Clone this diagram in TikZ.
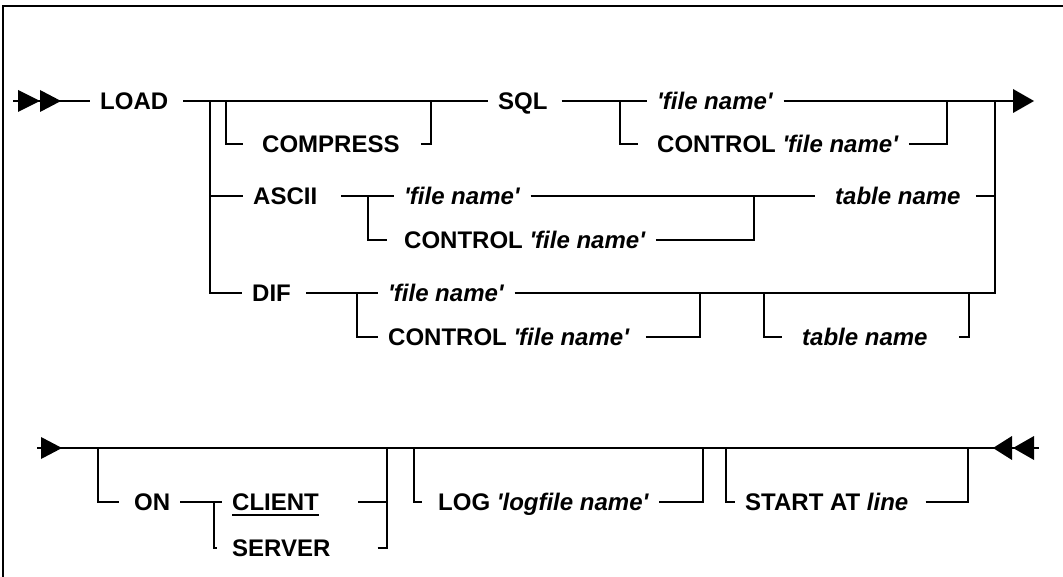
\documentclass[tikz,border=0pt]{standalone}
\usepackage{fontspec}
\setmainfont{Liberation Sans}
\newcommand\fn{\textit{\textquotesingle file name\textquotesingle}}
\newcommand\myul[1]{\setbox0\hbox{#1}\rlap{\rule[-5pt]{\wd0}{1.8pt}}\box0}
\begin{document}
\begin{tikzpicture}[x=1pt,y=-1pt,
  rr/.style={line width=1.8pt},
  kw/.style={anchor=west,inner xsep=10pt,inner ysep=0pt,text height=17pt,text depth=0pt,
    font=\fontsize{24}{27}\selectfont\bfseries},
  tip/.style={fill=black}]
\useasboundingbox (0,0) rectangle (1063,577);
% frame
\draw[line width=2pt] (3,577) -- (3,6) -- (1063,6);
% text nodes
\node[kw] (load) at (90,101) {LOAD};
\node[kw] (compress) at (252,144) {COMPRESS};
\node[kw] (sql) at (488,101) {SQL};
\node[kw] (sqlf) at (647,101) {\fn};
\node[kw] (sqlc) at (647,144) {CONTROL \fn};
\node[kw] (ascii) at (243,196) {ASCII};
\node[kw] (ascf) at (394,196) {\fn};
\node[kw] (ascc) at (394,240) {CONTROL \fn};
\node[kw] (tn1) at (825,196) {\textit{table name}};
\node[kw] (dif) at (242,293) {DIF};
\node[kw] (diff) at (378,293) {\fn};
\node[kw] (difc) at (378,337) {CONTROL \fn};
\node[kw] (tn2) at (792,337) {\textit{table name}};
\node[kw] (on) at (124,502) {ON};
\node[kw] (client) at (222,502) {\myul{CLIENT}};
\node[kw] (server) at (222,548) {SERVER};
\node[kw] (log) at (428,502) {LOG \textit{\textquotesingle logfile name\textquotesingle}};
\node[kw] (start) at (735,502) {START AT \textit{line}};
% junction coordinates
\coordinate (s0) at (13,101);
\coordinate (j1) at (210,101); \coordinate (j2) at (210,196); \coordinate (j3) at (210,293);
\coordinate (c1) at (226,101); \coordinate (c2) at (226,144); \coordinate (c3) at (431,144); \coordinate (c4) at (431,101);
\coordinate (q1) at (620,101); \coordinate (q2) at (620,144); \coordinate (q3) at (947,144); \coordinate (q4) at (947,101);
\coordinate (e1) at (1014,101); \coordinate (e2) at (995,101); \coordinate (e3) at (995,196); \coordinate (e4) at (995,293);
\coordinate (a1) at (368,196); \coordinate (a2) at (368,240); \coordinate (a3) at (754,240); \coordinate (a4) at (754,196);
\coordinate (d1) at (357,293); \coordinate (d2) at (357,337); \coordinate (d3) at (700,337); \coordinate (d4) at (700,293);
\coordinate (t1) at (764,293); \coordinate (t2) at (764,337); \coordinate (t3) at (969,337); \coordinate (t4) at (969,293);
\coordinate (b0) at (37,448); \coordinate (b9) at (1039,448);
\coordinate (o1) at (98,448); \coordinate (o2) at (98,502); \coordinate (o3) at (214,502); \coordinate (o4) at (214,548);
\coordinate (o5) at (387,548); \coordinate (o6) at (387,448); \coordinate (o7) at (387,502);
\coordinate (l1) at (414,448); \coordinate (l2) at (414,502); \coordinate (l3) at (703,502); \coordinate (l4) at (703,448);
\coordinate (r1) at (726,448); \coordinate (r2) at (726,502); \coordinate (r3) at (968,502); \coordinate (r4) at (968,448);
% connectors
\draw[rr] (s0) -- (load.west);
\draw[rr,shorten <=5pt] (load.east) -- (sql.west);
\draw[rr] (j1) -- (j3) -- (dif.west);
\draw[rr] (j2) -- (ascii.west);
\draw[rr,shorten >=9pt] (c1) -- (c2) -- (compress.west);
\draw[rr,shorten <=11pt] (compress.east) -- (c3) -- (c4);
\draw[rr,shorten <=4pt] (sql.east) -- (sqlf.west);
\draw[rr,shorten >=9pt] (q1) -- (q2) -- (sqlc.west);
\draw[rr] (sqlf.east) -- (e1);
\draw[rr] (sqlc.east) -- (q3) -- (q4);
\draw[rr] (diff.east) -- (e4) -- (e2);
\draw[rr,shorten <=14pt] (ascii.east) -- (ascf.west);
\draw[rr,shorten >=7pt] (a1) -- (a2) -- (ascc.west);
\draw[rr,shorten >=10pt] (ascf.east) -- (tn1.west);
\draw[rr] (ascc.east) -- (a3) -- (a4);
\draw[rr,shorten <=5pt] (tn1.east) -- (e3);
\draw[rr,shorten <=5pt] (dif.east) -- (diff.west);
\draw[rr] (d1) -- (d2) -- (difc.west);
\draw[rr,shorten <=6pt] (difc.east) -- (d3) -- (d4);
\draw[rr,shorten >=10pt] (t1) -- (t2) -- (tn2.west);
\draw[rr,shorten <=21pt] (tn2.east) -- (t3) -- (t4);
\draw[rr] (b0) -- (b9);
\draw[rr,shorten >=5pt] (o1) -- (o2) -- (on.west);
\draw[rr] (on.east) -- (client.west);
\draw[rr,shorten >=5pt] (o3) -- (o4) -- (server.west);
\draw[rr,shorten <=29pt] (client.east) -- (o7);
\draw[rr,shorten <=37pt] (server.east) -- (o5) -- (o6);
\draw[rr,shorten >=6pt] (l1) -- (l2) -- (log.west);
\draw[rr] (log.east) -- (l3) -- (l4);
\draw[rr] (r1) -- (r2) -- (start.west);
\draw[rr,shorten <=7pt] (start.east) -- (r3) -- (r4);
% arrowheads
\fill[tip] (18,90) -- (40,101) -- (18,112) -- cycle;
\fill[tip] (40,90) -- (61,101) -- (40,112) -- cycle;
\fill[tip] (1013,89) -- (1034,101) -- (1013,113) -- cycle;
\fill[tip] (41,437) -- (62,448) -- (41,459) -- cycle;
\fill[tip] (1012,436) -- (993,448) -- (1012,460) -- cycle;
\fill[tip] (1034,436) -- (1013,448) -- (1034,460) -- cycle;
\end{tikzpicture}
\end{document}
